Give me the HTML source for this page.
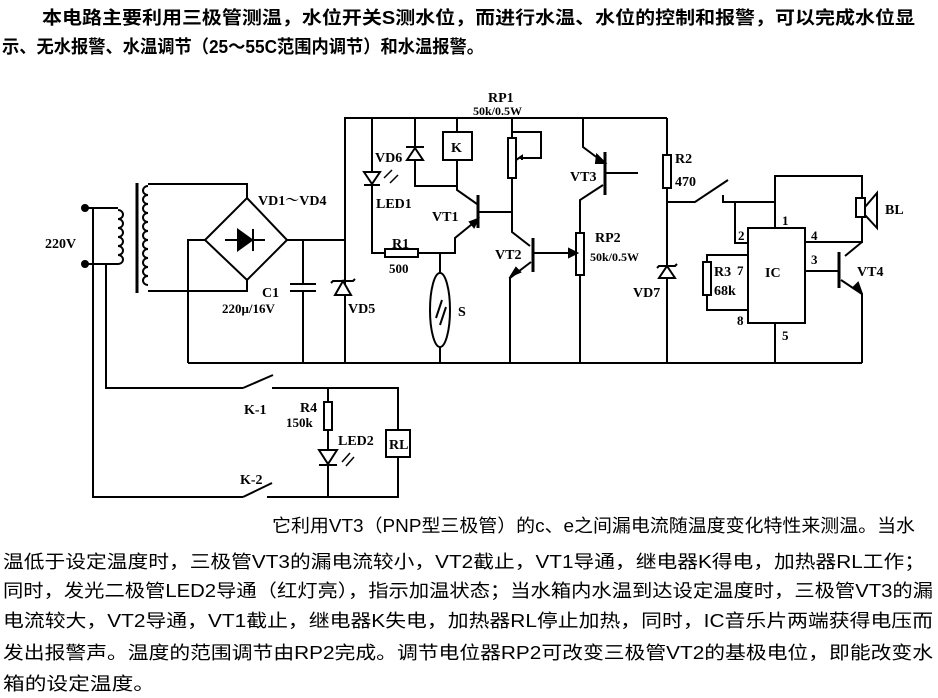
<!DOCTYPE html>
<html><head><meta charset="utf-8"><style>
html,body{margin:0;padding:0;background:#fff;}
svg{display:block;}
text{font-family:"Liberation Serif","Noto Serif CJK SC","Noto Sans CJK SC",serif;fill:#000;}
text.cn{font-family:"Liberation Sans","Noto Sans CJK SC",sans-serif;}
.lb{font-weight:bold;font-size:14px;}
</style></head><body>
<svg width="938" height="698" viewBox="0 0 938 698" xmlns="http://www.w3.org/2000/svg">
<g font-size="18">
<text class="cn" x="42" y="24" textLength="873" lengthAdjust="spacingAndGlyphs" font-weight="bold">本电路主要利用三极管测温，水位开关S测水位，而进行水温、水位的控制和报警，可以完成水位显</text>
<text class="cn" x="2" y="53" textLength="482" lengthAdjust="spacingAndGlyphs" font-weight="bold">示、无水报警、水温调节（25～55C范围内调节）和水温报警。</text>
<text class="cn" x="272" y="532" textLength="643" lengthAdjust="spacingAndGlyphs">它利用VT3（PNP型三极管）的c、e之间漏电流随温度变化特性来测温。当水</text>
<text class="cn" x="3" y="568" textLength="922" lengthAdjust="spacingAndGlyphs">温低于设定温度时，三极管VT3的漏电流较小，VT2截止，VT1导通，继电器K得电，加热器RL工作；</text>
<text class="cn" x="3" y="597" textLength="930" lengthAdjust="spacingAndGlyphs">同时，发光二极管LED2导通（红灯亮），指示加温状态；当水箱内水温到达设定温度时，三极管VT3的漏</text>
<text class="cn" x="3" y="627" textLength="930" lengthAdjust="spacingAndGlyphs">电流较大，VT2导通，VT1截止，继电器K失电，加热器RL停止加热，同时，IC音乐片两端获得电压而</text>
<text class="cn" x="3" y="659" textLength="930" lengthAdjust="spacingAndGlyphs">发出报警声。温度的范围调节由RP2完成。调节电位器RP2可改变三极管VT2的基极电位，即能改变水</text>
<text class="cn" x="3" y="690" textLength="152" lengthAdjust="spacingAndGlyphs">箱的设定温度。</text>
</g>
<g stroke="#000" stroke-width="2" fill="none">
<polyline points="345,363 345,118 667,118"/>
<line x1="188" y1="363" x2="862" y2="363"/>
<circle cx="85" cy="208" r="3" fill="#000"/><circle cx="85" cy="264" r="3" fill="#000"/>
<polyline points="85,208 118,208"/>
<polyline points="93,208 93,497 243,497"/>
<polyline points="85,264 118,264"/>
<polyline points="106,264 106,388 243,388"/>
<path d="M118,210 a5,4.5 0 0 1 0,9 a5,4.5 0 0 1 0,9 a5,4.5 0 0 1 0,9 a5,4.5 0 0 1 0,9 a5,4.5 0 0 1 0,9 a5,4.5 0 0 1 0,9"/>
<line x1="137" y1="183" x2="137" y2="293" stroke-width="3"/>
<path d="M148,186 a5,4.5 0 0 0 0,9 a5,4.5 0 0 0 0,9 a5,4.5 0 0 0 0,9 a5,4.5 0 0 0 0,9 a5,4.5 0 0 0 0,9 a5,4.5 0 0 0 0,9 a5,4.5 0 0 0 0,9 a5,4.5 0 0 0 0,9 a5,4.5 0 0 0 0,9 a5,4.5 0 0 0 0,9 a5,4.5 0 0 0 0,9"/>
<polyline points="148,184 247,184 247,198"/>
<polyline points="148,291 247,291 247,280"/>
<polygon points="247,198 287,240 247,280 205,240"/>
<line x1="225" y1="240" x2="265" y2="240"/>
<polygon points="238,230 238,250 252,240" fill="#000"/>
<line x1="253" y1="229" x2="253" y2="251"/>
<polyline points="205,240 188,240 188,363"/>
<line x1="287" y1="240" x2="345" y2="240"/>
<polyline points="303,240 303,284"/><line x1="290" y1="284" x2="316" y2="284"/>
<line x1="290" y1="291" x2="316" y2="291"/><polyline points="303,291 303,363"/>
<polygon points="335,295 351,295 343,281" fill="#fff"/>
<polyline points="331,283 333,281 353,281 355,279"/>
<polyline points="372,118 372,253 385,253"/>
<polygon points="364,172 380,172 372,184" fill="#fff"/><line x1="364" y1="185" x2="380" y2="185"/>
<line x1="384" y1="178" x2="392" y2="170" stroke-width="1.5"/><line x1="390" y1="183" x2="398" y2="175" stroke-width="1.5"/>
<rect x="385" y="249" width="33" height="8"/>
<polyline points="418,253 455,253 455,238 477,220"/>
<polygon points="470,222 478,219 474,227" fill="#000"/>
<polyline points="415,118 415,186 457,186"/>
<polygon points="407,160 423,160 415,148" fill="#fff"/><line x1="406" y1="147" x2="424" y2="147"/>
<polyline points="457,118 457,132"/><rect x="443" y="132" width="29" height="28"/>
<polyline points="457,160 457,190 477,204"/>
<line x1="478" y1="195" x2="478" y2="228" stroke-width="3"/>
<line x1="478" y1="212" x2="512" y2="212"/>
<polyline points="440,253 440,273"/><ellipse cx="440" cy="310" rx="10" ry="37"/>
<line x1="436" y1="318" x2="442" y2="300"/><line x1="440" y1="325" x2="446" y2="307"/>
<polyline points="440,347 440,363"/>
<polyline points="512,118 512,138"/><rect x="508" y="138" width="8" height="40"/>
<polyline points="516,160 522,156 522,160"/>
<polyline points="520,158 541,158 541,132 512,132"/>
<polyline points="512,178 512,232 530,246"/>
<line x1="533" y1="238" x2="533" y2="272" stroke-width="3"/>
<polyline points="531,262 510,278 510,363"/>
<polygon points="511,276 520,272 516,268" fill="#000"/>
<polyline points="533,253 572,253"/><polygon points="569,249 577,253 569,257" fill="#000"/>
<polyline points="583,118 583,147 603,162"/><polygon points="597,155 605,163 596,163" fill="#000"/>
<line x1="605" y1="152" x2="605" y2="195" stroke-width="3"/>
<line x1="605" y1="173" x2="638" y2="173"/>
<polyline points="603,185 580,200 580,233"/>
<rect x="576" y="233" width="8" height="42"/>
<polyline points="580,275 580,363"/>
<polyline points="667,118 667,155"/><rect x="663" y="155" width="8" height="33"/>
<polyline points="667,188 667,363"/>
<polygon points="659,278 675,278 667,266" fill="#fff"/><polyline points="657,268 659,266 675,266 677,264"/>
<polyline points="667,202 695,202 728,180"/>
<polyline points="723,195 723,202 775,202"/>
<polyline points="735,202 735,243 748,243"/>
<rect x="748" y="228" width="57" height="95"/>
<polyline points="775,228 775,176 862,176 862,198"/>
<rect x="856" y="198" width="9" height="19"/>
<polygon points="865,207 877,193 877,228 865,215"/>
<polyline points="862,217 862,242 805,242"/>
<polyline points="862,242 845,256"/>
<line x1="839" y1="252" x2="839" y2="288" stroke-width="3"/>
<line x1="805" y1="271" x2="839" y2="271"/>
<polyline points="841,280 862,294 862,363"/><polygon points="862,294 854,287 858,283" fill="#000"/>
<polyline points="775,323 775,363"/>
<polyline points="748,255 707,255 707,310 748,310"/>
<rect x="703" y="262" width="8" height="33" fill="#fff"/>
<line x1="243" y1="388" x2="273" y2="375"/>
<polyline points="272,388 398,388 398,430"/>
<rect x="386" y="430" width="24" height="27"/>
<polyline points="398,457 398,497 267,497"/>
<line x1="243" y1="497" x2="272" y2="483"/>
<polyline points="328,388 328,402"/><rect x="324" y="402" width="8" height="28"/>
<polyline points="328,430 328,497"/>
<polygon points="319,450 337,450 328,464" fill="#fff"/><line x1="319" y1="465" x2="337" y2="465"/>
<line x1="342" y1="462" x2="350" y2="453" stroke-width="1.5"/><line x1="346" y1="466" x2="354" y2="457" stroke-width="1.5"/>
</g>
<g class="lb">
<text x="258" y="205">VD1～VD4</text>
<text x="45" y="248">220V</text>
<text x="262" y="297">C1</text>
<text x="222" y="313" font-size="13">220μ/16V</text>
<text x="348" y="313">VD5</text>
<text x="375" y="162">VD6</text>
<text x="451" y="152">K</text>
<text x="376" y="208">LED1</text>
<text x="432" y="221">VT1</text>
<text x="392" y="248">R1</text>
<text x="389" y="273" font-size="13">500</text>
<text x="458" y="316">S</text>
<text x="488" y="102">RP1</text>
<text x="473" y="115" font-size="12">50k/0.5W</text>
<text x="570" y="181">VT3</text>
<text x="495" y="259">VT2</text>
<text x="595" y="242">RP2</text>
<text x="590" y="261" font-size="12">50k/0.5W</text>
<text x="675" y="163">R2</text>
<text x="675" y="186">470</text>
<text x="633" y="297">VD7</text>
<text x="714" y="276">R3</text>
<text x="714" y="295">68k</text>
<text x="765" y="277">IC</text>
<text x="782" y="225" font-size="13">1</text>
<text x="738" y="240" font-size="13">2</text>
<text x="811" y="240" font-size="13">4</text>
<text x="811" y="264" font-size="13">3</text>
<text x="737" y="275" font-size="13">7</text>
<text x="737" y="325" font-size="13">8</text>
<text x="782" y="340" font-size="13">5</text>
<text x="885" y="214">BL</text>
<text x="857" y="276">VT4</text>
<text x="244" y="414">K-1</text>
<text x="300" y="412">R4</text>
<text x="286" y="427" font-size="13">150k</text>
<text x="338" y="445">LED2</text>
<text x="389" y="449">RL</text>
<text x="240" y="484">K-2</text>
</g>
</svg>
</body></html>
